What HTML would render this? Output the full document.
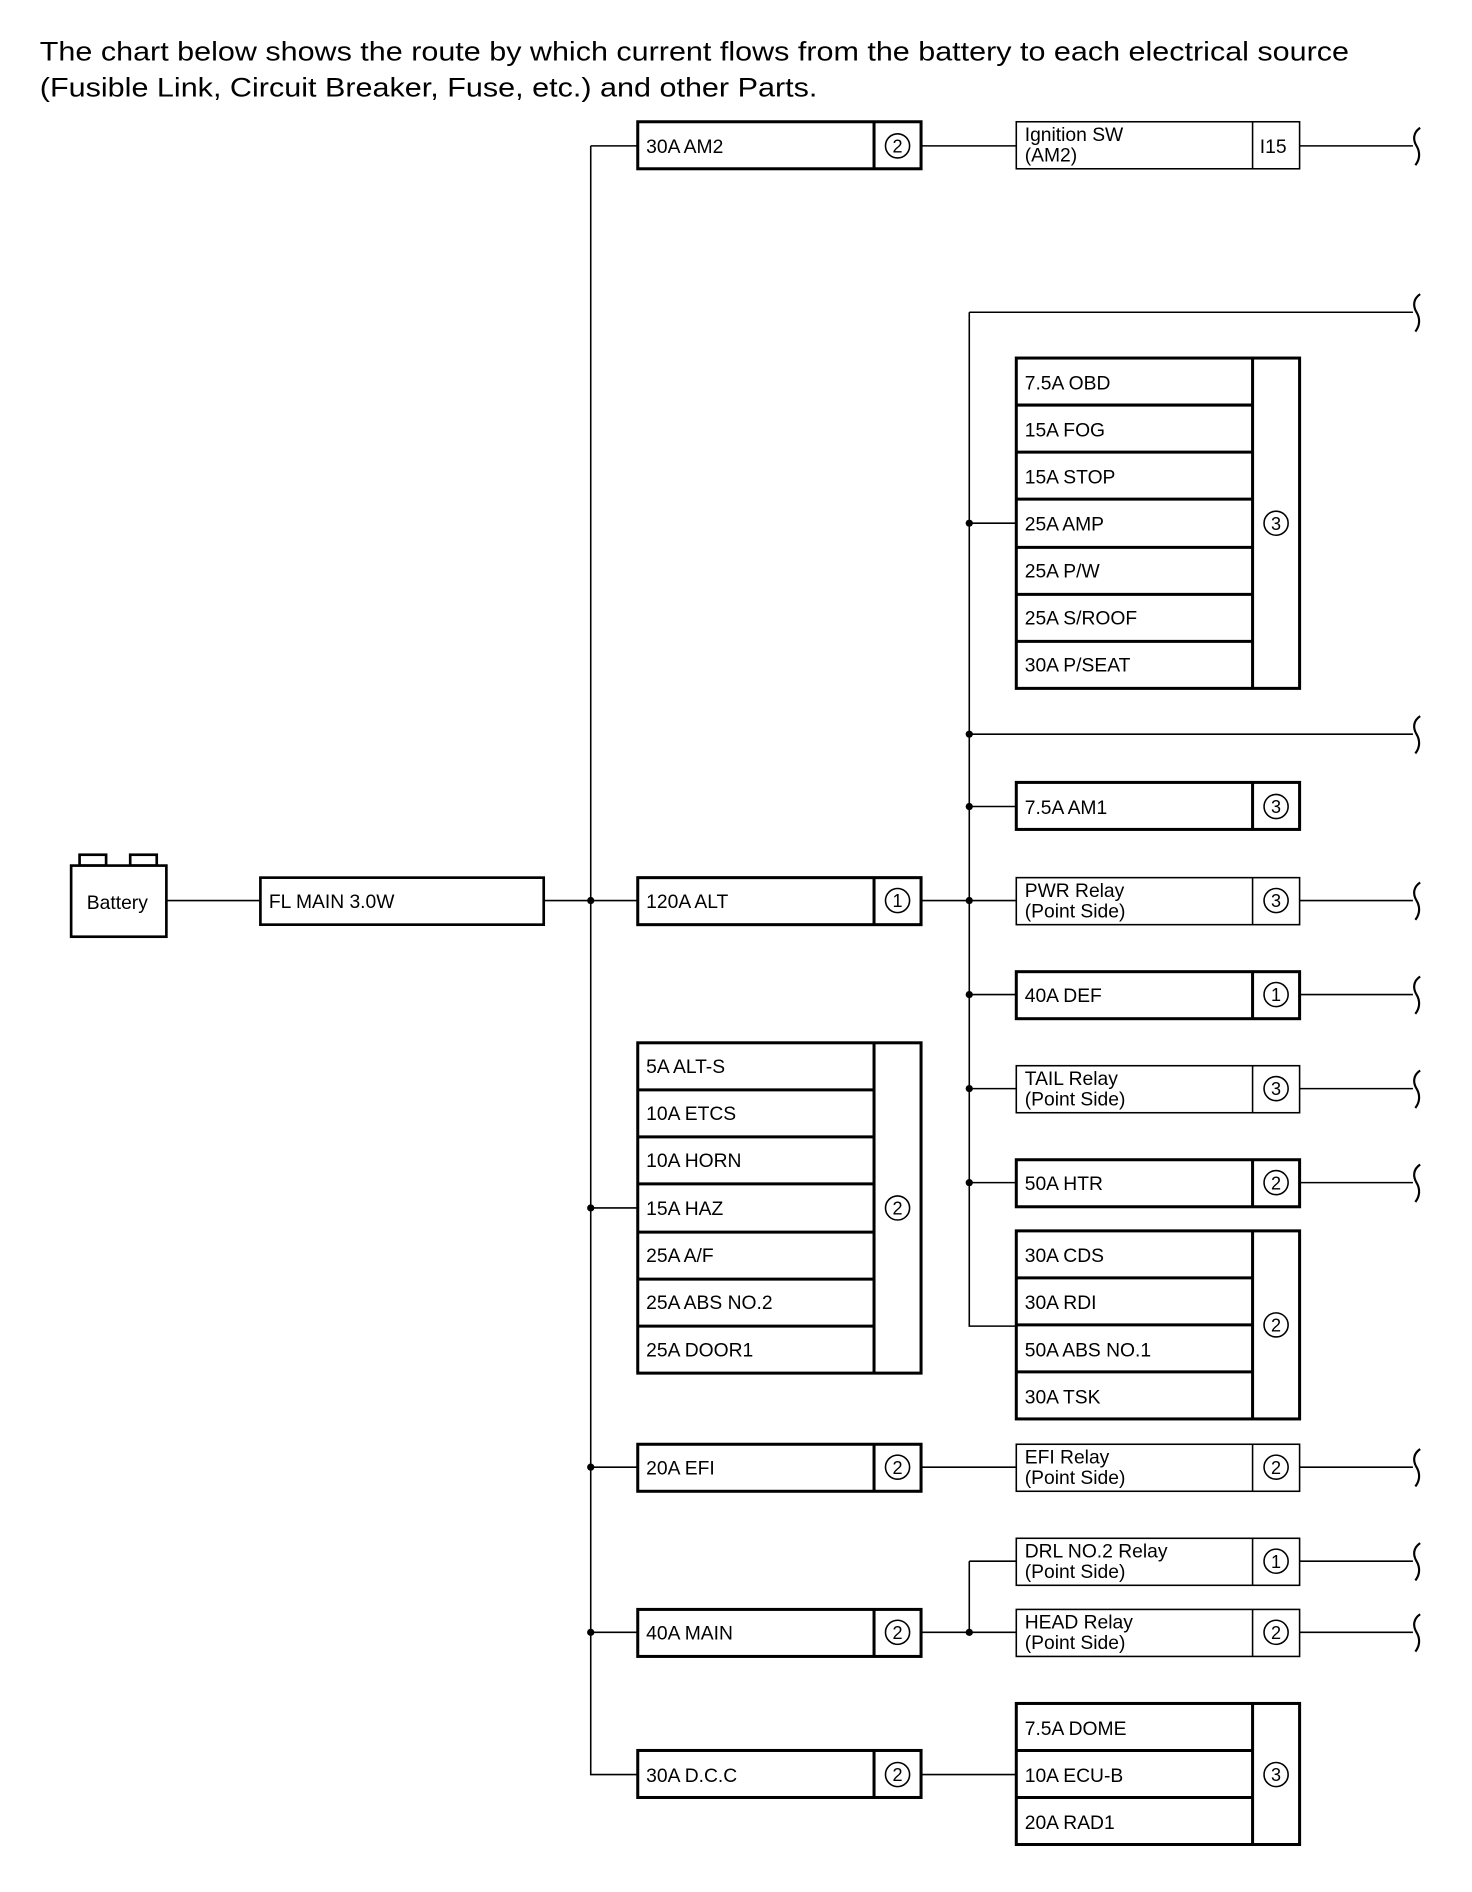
<!DOCTYPE html>
<html><head><meta charset="utf-8"><style>
html,body{margin:0;padding:0;background:#fff;}
svg{display:block}
text{font-family:"Liberation Sans",Arial,sans-serif;fill:#000}
</style></head><body>
<svg width="1472" height="1892" viewBox="0 0 1221 1569.4" xmlns="http://www.w3.org/2000/svg">
<g>
<text x="33" y="50" font-size="22" textLength="1086" lengthAdjust="spacingAndGlyphs">The chart below shows the route by which current flows from the battery to each electrical source</text>
<text x="33" y="80" font-size="22" textLength="645" lengthAdjust="spacingAndGlyphs">(Fusible Link, Circuit Breaker, Fuse, etc.) and other Parts.</text>
</g>
<g stroke="#000" stroke-width="1.3" fill="none">
<!-- main bus -->
<path d="M490 121V1472H529"/>
<path d="M490 121H529M138 747H216M451 747H529M490 1002H529M490 1217H529M490 1354H529"/>
<!-- second bus -->
<path d="M804 259V1100H843M804 259H1172M804 609H1172M804 434H843M804 669H843M764 747H843M804 825H843M804 903H843M804 981H843"/>
<path d="M764 121H843M1078 121H1172M1078 747H1172M1078 825H1172M1078 903H1172M1078 981H1172"/>
<path d="M764 1217H843M1078 1217H1172M764 1354H843M804 1295V1354M804 1295H843M1078 1295H1172M1078 1354H1172M764 1472H843"/>
<!-- braces -->
<g stroke-width="1.8">
<path id="br" d="M1178 106C1172 110 1172 116 1175 121C1178 126 1178 132 1174 137"/>
<path d="M1178 244C1172 248 1172 254 1175 259C1178 264 1178 270 1174 275"/>
<path d="M1178 594C1172 598 1172 604 1175 609C1178 614 1178 620 1174 625"/>
<path d="M1178 732C1172 736 1172 742 1175 747C1178 752 1178 758 1174 763"/>
<path d="M1178 810C1172 814 1172 820 1175 825C1178 830 1178 836 1174 841"/>
<path d="M1178 888C1172 892 1172 898 1175 903C1178 908 1178 914 1174 919"/>
<path d="M1178 966C1172 970 1172 976 1175 981C1178 986 1178 992 1174 997"/>
<path d="M1178 1202C1172 1206 1172 1212 1175 1217C1178 1222 1178 1228 1174 1233"/>
<path d="M1178 1280C1172 1284 1172 1290 1175 1295C1178 1300 1178 1306 1174 1311"/>
<path d="M1178 1339C1172 1343 1172 1349 1175 1354C1178 1359 1178 1365 1174 1370"/>
</g>
</g>
<!-- dots -->
<g fill="#000">
<circle cx="490" cy="747" r="3"/><circle cx="490" cy="1002" r="3"/><circle cx="490" cy="1217" r="3"/><circle cx="490" cy="1354" r="3"/>
<circle cx="804" cy="434" r="3"/><circle cx="804" cy="609" r="3"/><circle cx="804" cy="669" r="3"/><circle cx="804" cy="747" r="3"/><circle cx="804" cy="825" r="3"/><circle cx="804" cy="903" r="3"/><circle cx="804" cy="981" r="3"/><circle cx="804" cy="1354" r="3"/>
</g>
<!-- battery -->
<g stroke="#000" stroke-width="2.2" fill="#fff">
<rect x="66" y="709" width="22" height="9"/><rect x="108" y="709" width="22" height="9"/>
<rect x="59" y="718" width="79" height="59"/>
<rect x="216" y="728" width="235" height="39"/>
</g>
<text x="72" y="754" font-size="16">Battery</text>
<text x="223" y="753" font-size="16">FL MAIN 3.0W</text>

<!-- thick single fuse boxes -->
<g stroke="#000" stroke-width="2.5" fill="none">
<rect x="529" y="101" width="235" height="39"/><path d="M725 101V140"/>
<rect x="529" y="728" width="235" height="39"/><path d="M725 728V767"/>
<rect x="529" y="1198" width="235" height="39"/><path d="M725 1198V1237"/>
<rect x="529" y="1335" width="235" height="39"/><path d="M725 1335V1374"/>
<rect x="529" y="1452" width="235" height="39"/><path d="M725 1452V1491"/>
<rect x="843" y="649" width="235" height="39"/><path d="M1039 649V688"/>
<rect x="843" y="806" width="235" height="39"/><path d="M1039 806V845"/>
<rect x="843" y="962" width="235" height="39"/><path d="M1039 962V1001"/>
<!-- multi -->
<rect x="529" y="865" width="235" height="274"/><path d="M725 865V1139M529 904H725M529 943H725M529 982H725M529 1022H725M529 1061H725M529 1100H725"/>
<rect x="843" y="297" width="235" height="274"/><path d="M1039 297V571M843 336H1039M843 375H1039M843 414H1039M843 454H1039M843 493H1039M843 532H1039"/>
<rect x="843" y="1021" width="235" height="156"/><path d="M1039 1021V1177M843 1060H1039M843 1099H1039M843 1138H1039"/>
<rect x="843" y="1413" width="235" height="117"/><path d="M1039 1413V1530M843 1452H1039M843 1491H1039"/>
</g>
<!-- thin relay boxes -->
<g stroke="#000" stroke-width="1.3" fill="none">
<rect x="843" y="101" width="235" height="39"/><path d="M1039 101V140"/>
<rect x="843" y="728" width="235" height="39"/><path d="M1039 728V767"/>
<rect x="843" y="884" width="235" height="39"/><path d="M1039 884V923"/>
<rect x="843" y="1198" width="235" height="39"/><path d="M1039 1198V1237"/>
<rect x="843" y="1276" width="235" height="39"/><path d="M1039 1276V1315"/>
<rect x="843" y="1335" width="235" height="39"/><path d="M1039 1335V1374"/>
</g>
<!-- circles -->
<g stroke="#000" stroke-width="1.3" fill="none">
<circle cx="744.5" cy="121" r="10"/><circle cx="744.5" cy="747" r="10"/><circle cx="744.5" cy="1002" r="10"/><circle cx="744.5" cy="1217" r="10"/><circle cx="744.5" cy="1354" r="10"/><circle cx="744.5" cy="1472" r="10"/>
<circle cx="1058.5" cy="434" r="10"/><circle cx="1058.5" cy="669" r="10"/><circle cx="1058.5" cy="747" r="10"/><circle cx="1058.5" cy="825" r="10"/><circle cx="1058.5" cy="903" r="10"/><circle cx="1058.5" cy="981" r="10"/><circle cx="1058.5" cy="1099" r="10"/><circle cx="1058.5" cy="1217" r="10"/><circle cx="1058.5" cy="1295" r="10"/><circle cx="1058.5" cy="1354" r="10"/><circle cx="1058.5" cy="1472" r="10"/>
</g>
<g font-size="15" text-anchor="middle">
<text x="744.5" y="126.5">2</text><text x="744.5" y="752.5">1</text><text x="744.5" y="1007.5">2</text><text x="744.5" y="1222.5">2</text><text x="744.5" y="1359.5">2</text><text x="744.5" y="1477.5">2</text>
<text x="1058.5" y="439.5">3</text><text x="1058.5" y="674.5">3</text><text x="1058.5" y="752.5">3</text><text x="1058.5" y="830.5">1</text><text x="1058.5" y="908.5">3</text><text x="1058.5" y="986.5">2</text><text x="1058.5" y="1104.5">2</text><text x="1058.5" y="1222.5">2</text><text x="1058.5" y="1300.5">1</text><text x="1058.5" y="1359.5">2</text><text x="1058.5" y="1477.5">3</text>
</g>
<text x="1045" y="127" font-size="16">I15</text>
<!-- labels -->
<g font-size="16">
<text x="536" y="127">30A AM2</text>
<text x="536" y="753">120A ALT</text>
<text x="536" y="890">5A ALT-S</text>
<text x="536" y="929">10A ETCS</text>
<text x="536" y="968">10A HORN</text>
<text x="536" y="1008">15A HAZ</text>
<text x="536" y="1047">25A A/F</text>
<text x="536" y="1086">25A ABS NO.2</text>
<text x="536" y="1125">25A DOOR1</text>
<text x="536" y="1223">20A EFI</text>
<text x="536" y="1360">40A MAIN</text>
<text x="536" y="1478">30A D.C.C</text>
<text x="850" y="323">7.5A OBD</text>
<text x="850" y="362">15A FOG</text>
<text x="850" y="401">15A STOP</text>
<text x="850" y="440">25A AMP</text>
<text x="850" y="479">25A P/W</text>
<text x="850" y="518">25A S/ROOF</text>
<text x="850" y="557">30A P/SEAT</text>
<text x="850" y="675">7.5A AM1</text>
<text x="850" y="831">40A DEF</text>
<text x="850" y="987">50A HTR</text>
<text x="850" y="1047">30A CDS</text>
<text x="850" y="1086">30A RDI</text>
<text x="850" y="1125">50A ABS NO.1</text>
<text x="850" y="1164">30A TSK</text>
<text x="850" y="1439">7.5A DOME</text>
<text x="850" y="1478">10A ECU-B</text>
<text x="850" y="1517">20A RAD1</text>
</g>
<g font-size="16">
<text x="850" y="117">Ignition SW</text><text x="850" y="134">(AM2)</text>
<text x="850" y="744">PWR Relay</text><text x="850" y="761">(Point Side)</text>
<text x="850" y="900">TAIL Relay</text><text x="850" y="917">(Point Side)</text>
<text x="850" y="1214">EFI Relay</text><text x="850" y="1231">(Point Side)</text>
<text x="850" y="1292">DRL NO.2 Relay</text><text x="850" y="1309">(Point Side)</text>
<text x="850" y="1351">HEAD Relay</text><text x="850" y="1368">(Point Side)</text>
</g>
</svg>
</body></html>
